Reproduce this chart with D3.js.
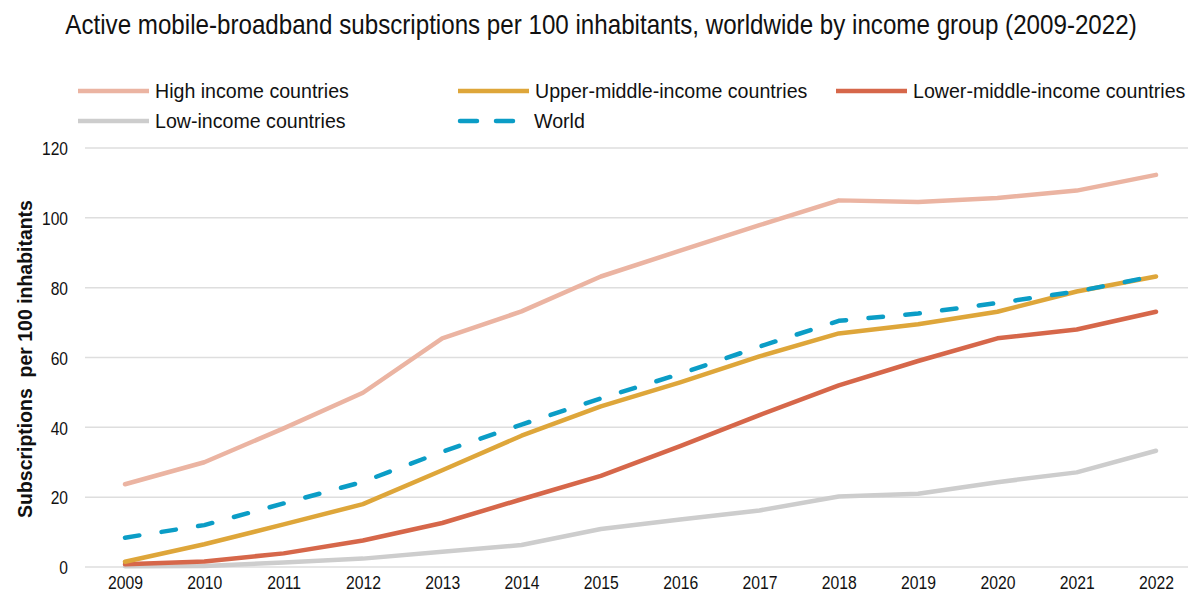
<!DOCTYPE html>
<html>
<head>
<meta charset="utf-8">
<script src="https://cdn.jsdelivr.net/npm/d3@7"></script>
<style>
  html, body { margin: 0; padding: 0; background: #fff; }
  svg { display: block; }
  text { font-family: "Liberation Sans", Arial, sans-serif; fill: #111; }
</style>
</head>
<body>
<svg id="chart" width="1188" height="592"></svg>
<script>
const years = [2009, 2010, 2011, 2012, 2013, 2014, 2015, 2016, 2017, 2018, 2019, 2020, 2021, 2022];
const highIncome   = [23.7, 30.0, 39.7, 49.9, 65.5, 73.2, 83.2, 90.6, 97.9, 105.0, 104.5, 105.7, 107.8, 112.3];
const upperMiddle  = [1.5, 6.5, 12.2, 18.0, 27.7, 37.6, 46.0, 52.9, 60.3, 66.9, 69.5, 73.1, 78.9, 83.2];
const lowerMiddle  = [0.8, 1.6, 3.9, 7.6, 12.6, 19.4, 26.1, 34.6, 43.5, 52.0, 59.0, 65.5, 68.0, 73.1];
const lowIncome    = [0.2, 0.3, 1.3, 2.4, 4.4, 6.3, 10.9, 13.6, 16.2, 20.2, 21.0, 24.3, 27.1, 33.3];
const world        = [8.4, 12.0, 18.2, 24.4, 33.0, 40.8, 48.3, 55.3, 63.1, 70.5, 72.6, 75.6, 78.9, 83.4];
const yTicks = [0, 20, 40, 60, 80, 100, 120];

const titleText = "Active mobile-broadband subscriptions per 100 inhabitants, worldwide by income group (2009-2022)";
const yAxisTitle = "Subscriptions  per 100 inhabitants";

const series = [
  { name: "High income countries", values: highIncome, color: "#EBB4A2", dash: null, legendRow: 0, legendCol: 0 },
  { name: "Upper-middle-income countries", values: upperMiddle, color: "#DEA63A", dash: null, legendRow: 0, legendCol: 1 },
  { name: "Lower-middle-income countries", values: lowerMiddle, color: "#D6674A", dash: null, legendRow: 0, legendCol: 2 },
  { name: "Low-income countries", values: lowIncome, color: "#CDCDCD", dash: null, legendRow: 1, legendCol: 0 },
  { name: "World", values: world, color: "#0B9DC6", dash: "14.5,22.5", legendRow: 1, legendCol: 1 }
];
const drawOrder = [3, 0, 2, 1, 4];

const svg = d3.select("#chart");

// horizontally condense text (via transform) to mimic a narrow typeface
function condense(sel, factor) {
  sel.each(function () {
    const t = d3.select(this);
    const tx = +t.attr("x") || 0, ty = +t.attr("y") || 0;
    const prior = t.attr("transform") || "";
    t.attr("x", 0).attr("y", 0)
     .attr("transform", `${prior} translate(${tx},${ty}) scale(${factor.toFixed(4)},1)`);
  });
}
function factorFor(sel, target) {
  return target / sel.node().getComputedTextLength();
}

const x = d3.scalePoint().domain(years).range([125, 1156]);
const y = d3.scaleLinear().domain([0, 120]).range([567, 148]);

// Title
const title = svg.append("text")
  .attr("x", 601).attr("y", 34)
  .attr("text-anchor", "middle")
  .style("font-size", "27px")
  .text(titleText);
condense(title, factorFor(title, 1072));

// Gridlines
svg.append("g").selectAll("line").data(yTicks).join("line")
  .attr("x1", 85).attr("x2", 1188)
  .attr("y1", d => y(d)).attr("y2", d => y(d))
  .attr("stroke", "#dedede").attr("stroke-width", 1.5);

// Y axis
const yAxis = d3.axisLeft(y).tickValues(yTicks).tickSize(0).tickPadding(0);
const yg = svg.append("g").attr("transform", "translate(68,0)").call(yAxis);
yg.select(".domain").remove();
const yTxt = yg.selectAll("text").style("font-size", "18.5px").style("font-family", null).attr("fill", "#111").attr("dy", "0.36em");
condense(yTxt, factorFor(yTxt.filter(d => d === 120), 26));

// X axis
const xAxis = d3.axisBottom(x).tickSize(0).tickPadding(0);
const xg = svg.append("g").attr("transform", "translate(0,575)").call(xAxis);
xg.select(".domain").remove();
const xTxt = xg.selectAll("text").style("font-size", "18.5px").style("font-family", null).attr("fill", "#111").attr("dy", "0.74em");
condense(xTxt, factorFor(xTxt.filter(d => d === 2009), 35));

// Y title
const yt = svg.append("text")
  .attr("transform", "translate(32,359) rotate(-90)")
  .attr("text-anchor", "middle")
  .style("font-size", "21px")
  .style("font-weight", "bold")
  .attr("xml:space", "preserve")
  .style("white-space", "pre")
  .text(yAxisTitle);
condense(yt, factorFor(yt, 318));

// Lines
const line = d3.line().x((d, i) => x(years[i])).y(d => y(d));
svg.append("g").selectAll("path").data(drawOrder.map(i => series[i])).join("path")
  .attr("d", d => line(d.values))
  .attr("fill", "none")
  .attr("stroke", d => d.color)
  .attr("stroke-width", 4.5)
  .attr("stroke-linejoin", "round")
  .attr("stroke-linecap", "round")
  .attr("stroke-dasharray", d => d.dash);

// Legend
const legendLineX = [78, 458, 836];
const legendRowY = [91, 121];
const lg = svg.append("g");
series.forEach(s => {
  const lx = legendLineX[s.legendCol];
  const ly = legendRowY[s.legendRow];
  lg.append("line")
    .attr("x1", lx).attr("x2", lx + 71)
    .attr("y1", ly).attr("y2", ly)
    .attr("stroke", s.color)
    .attr("stroke-width", 4.5)
    .attr("stroke-linecap", s.dash ? "round" : "butt")
    .attr("stroke-dasharray", s.dash ? "17,19" : null)
    .attr("transform", s.dash ? "translate(2,0)" : null);
  lg.append("text")
    .attr("class", "legend-text")
    .attr("x", lx + (s.dash ? 76 : 77)).attr("y", ly + 7)
    .style("font-size", "20px")
    .text(s.name);
});
const legTxt = lg.selectAll("text.legend-text");
condense(legTxt, factorFor(lg.select("text.legend-text"), 194));
</script>
</body>
</html>
